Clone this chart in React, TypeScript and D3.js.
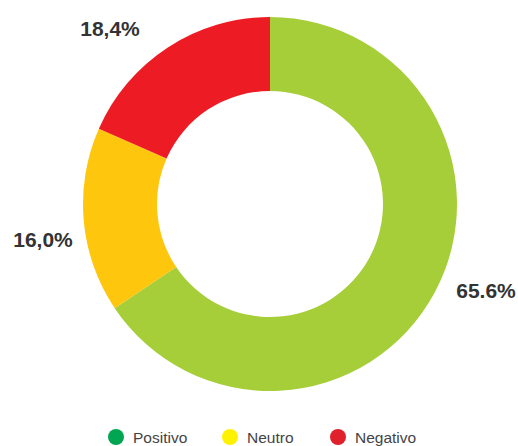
import React from "react";
import * as d3 from "d3";

const categories = ["Positivo", "Neutro", "Negativo"];
const values = [65.6, 16.0, 18.4];
const valueLabels = ["65.6%", "16,0%", "18,4%"];
const sliceColors = ["#a6ce39", "#fec60d", "#ed1c24"];
const legendColors = ["#00a651", "#fff200", "#e0202a"];

export default function App() {
  const W = 518, H = 446;
  const cx = 270, cy = 204, rOuter = 187, rInner = 113;
  const pie = d3.pie<number>().sort(null).value((d) => d)(values);
  const arc = d3.arc<d3.PieArcDatum<number>>().innerRadius(rInner).outerRadius(rOuter);
  const labelPos: [number, number][] = [
    [486, 298],
    [43, 247],
    [110, 36],
  ];
  const legendX = [116, 230, 338];
  return (
    <svg width={W} height={H} style={{ position: "absolute", left: 0, top: 0 }}>
      <g transform={`translate(${cx},${cy})`}>
        {pie.map((p, i) => (
          <path key={i} d={arc(p) || ""} fill={sliceColors[i]} />
        ))}
      </g>
      {valueLabels.map((t, i) => (
        <text
          key={i}
          x={labelPos[i][0]}
          y={labelPos[i][1]}
          textAnchor="middle"
          fontFamily="Liberation Sans, Arial, sans-serif"
          fontWeight="bold"
          fontSize={21}
          fill="#333"
        >
          {t}
        </text>
      ))}
      {categories.map((c, i) => (
        <g key={c}>
          <circle cx={legendX[i]} cy={437} r={8} fill={legendColors[i]} />
          <text
            x={legendX[i] + 17}
            y={442.5}
            fontFamily="Liberation Sans, Arial, sans-serif"
            fontSize={15.5}
            fill="#444"
          >
            {c}
          </text>
        </g>
      ))}
    </svg>
  );
}
